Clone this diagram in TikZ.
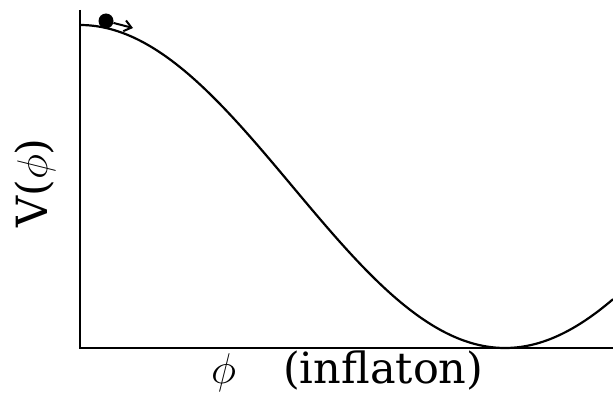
\RequirePackage{fix-cm}
\documentclass[tikz,border=0pt]{standalone}
\usepackage{fontspec}
\newfontfamily\labfont{DejaVu Serif}
\usetikzlibrary{arrows.meta}
\tikzset{
  axisline/.style={line width=2.2pt},
  curveline/.style={line width=2.2pt},
  lbl/.style={font=\labfont\fontsize{43}{50}\selectfont, inner sep=0pt},
  ball/.style={circle, fill=black, minimum size=15pt, inner sep=0pt},
  push/.style={line width=2pt, -{Straight Barb[length=7pt,width=11pt,line width=2pt]}}
}
\begin{document}
\begin{tikzpicture}[x=1pt,y=-1pt]
\useasboundingbox (0,0) rectangle (613,396);
\coordinate (ytop) at (80,10);
\coordinate (origin) at (80,348);
\coordinate (xend) at (613,348);
\draw[axisline] (ytop) -- (origin) -- (xend);
\draw[curveline] plot[domain=0:533, samples=200] ({\x+80}, {348-161.5*(1+cos(0.423529*\x))});
\node[ball] (b) at (106,21) {};
\coordinate (tip) at (133,28);
\draw[push] (b) -- (tip);
\node[lbl, anchor=base west] (phi) at (211,383) {$\phi$};
\node[lbl, anchor=base west] (infl) at (283,383) {(inflaton)};
\node[lbl, anchor=base west, rotate=90] (V) at (47,228) {V($\phi$)};
\end{tikzpicture}
\end{document}
